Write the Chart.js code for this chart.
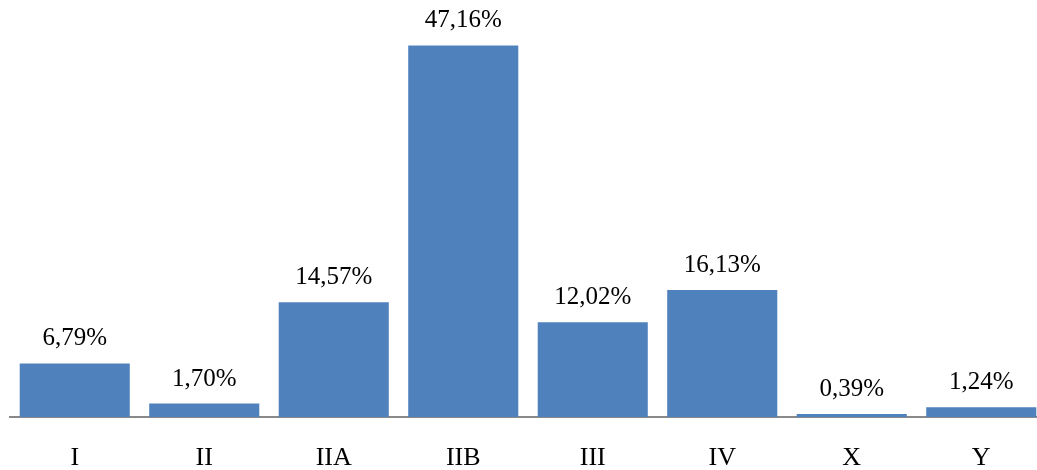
<!DOCTYPE html>
<html>
<head>
<meta charset="utf-8">
<script src="https://cdn.jsdelivr.net/npm/chart.js@4/dist/chart.umd.min.js"></script>
<style>
    html, body {
        margin: 0;
        padding: 0;
        background: #ffffff;
        overflow: hidden;
    }
    #wrap {
        position: relative;
        width: 1046px;
        height: 470px;
    }
</style>
</head>
<body>
<div id="wrap"><canvas id="stageChart"></canvas></div>
<script>
const categories = ["I", "II", "IIA", "IIB", "III", "IV", "X", "Y"];
const shares = [6.79, 1.70, 14.57, 47.16, 12.02, 16.13, 0.39, 1.24];
const shareLabels = ["6,79%", "1,70%", "14,57%", "47,16%", "12,02%", "16,13%", "0,39%", "1,24%"];

const serif = "'Liberation Serif', 'Times New Roman', serif";

// writes the percentage above each bar
const valueLabels = {
    id: "valueLabels",
    afterDatasetsDraw: (chart) => {
        const ctx = chart.ctx;
        const bars = chart.getDatasetMeta(0).data;

        ctx.save();
        ctx.font = "25px " + serif;
        ctx.fillStyle = "#000000";
        ctx.textAlign = "center";
        ctx.textBaseline = "alphabetic";

        for (let i = 0; i < bars.length; i++) {
            ctx.fillText(shareLabels[i], bars[i].x, bars[i].y - 18);
        }

        ctx.restore();
    }
};

new Chart(document.querySelector("#stageChart"), {
    type: "bar",
    data: {
        labels: categories,
        datasets: [
            {
                data: shares,
                backgroundColor: "#4f81bd",
                barPercentage: 0.85,
                categoryPercentage: 1
            }
        ]
    },
    options: {
        responsive: true,
        maintainAspectRatio: false,
        animation: false,
        layout: {
            padding: { left: 10, right: 0, top: 23, bottom: 0 }
        },
        plugins: {
            legend: { display: false },
            tooltip: { enabled: false }
        },
        scales: {
            x: {
                grid: { display: false },
                border: { display: true, color: "#898989", width: 2 },
                ticks: {
                    color: "#000000",
                    font: { family: serif, size: 26 },
                    padding: 18
                },
                afterFit: (scale) => {
                    scale.height = 53;
                }
            },
            y: {
                display: false,
                min: 0,
                max: 50
            }
        }
    },
    plugins: [valueLabels]
});
</script>
</body>
</html>
